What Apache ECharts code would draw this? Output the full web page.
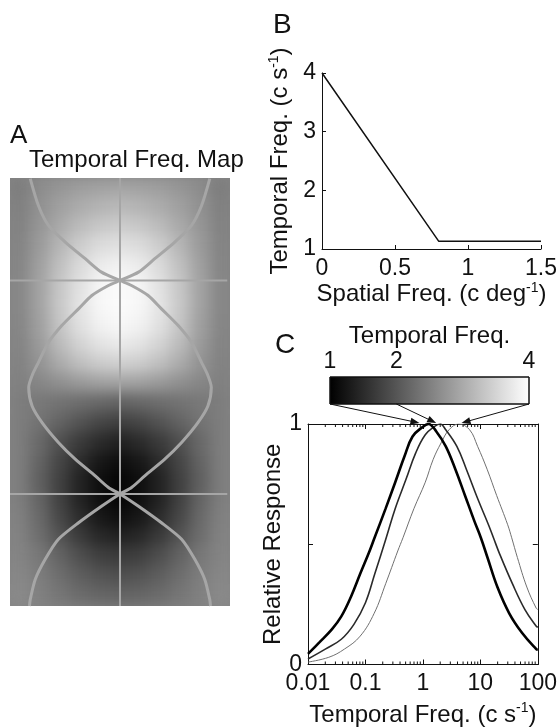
<!DOCTYPE html>
<html>
<head>
<meta charset="utf-8">
<script src="https://cdn.jsdelivr.net/npm/echarts@6/dist/echarts.min.js"></script>
<style>
  html, body { margin: 0; padding: 0; background: #ffffff; }
  #mapBox { position: absolute; left: 10px; top: 178px; width: 220px; height: 428px; overflow: hidden; background: #858585; }
  #mapInner { width: 220px; height: 428px; filter: blur(7px); }
  #main { position: absolute; left: 0; top: 0; width: 560px; height: 728px; }
</style>
</head>
<body>
<div id="mapBox"><div id="mapInner"></div></div>
<div id="main"></div>
<script>
// ---------- Panel A: temporal frequency map ----------
// Temporal frequency (c/s) per map band, top to bottom. Each row starts at the
// centre column and steps outward to the edge; the map is mirror-symmetric.
const mapRowsHalf = [
  [2.94, 2.91, 2.86, 2.76, 2.65, 2.47],
  [3.18, 3.12, 3.02, 2.88, 2.71, 2.51],
  [3.41, 3.35, 3.21, 3.00, 2.76, 2.53],
  [3.65, 3.59, 3.41, 3.14, 2.82, 2.55],
  [3.85, 3.76, 3.56, 3.26, 2.88, 2.56],
  [3.94, 3.88, 3.65, 3.33, 2.92, 2.59],
  [3.96, 3.91, 3.68, 3.35, 2.92, 2.59],
  [3.92, 3.85, 3.65, 3.32, 2.88, 2.58],
  [3.76, 3.68, 3.49, 3.21, 2.82, 2.55],
  [3.47, 3.41, 3.26, 3.02, 2.74, 2.53],
  [2.94, 2.91, 2.82, 2.71, 2.59, 2.51],
  [2.18, 2.24, 2.29, 2.35, 2.41, 2.47],
  [1.76, 1.85, 2.00, 2.18, 2.35, 2.47],
  [1.41, 1.53, 1.71, 1.94, 2.24, 2.47],
  [1.18, 1.29, 1.53, 1.82, 2.18, 2.47],
  [1.06, 1.18, 1.41, 1.76, 2.12, 2.47],
  [1.06, 1.18, 1.41, 1.76, 2.18, 2.47],
  [1.18, 1.29, 1.53, 1.85, 2.24, 2.51],
  [1.41, 1.49, 1.71, 2.00, 2.29, 2.53],
  [1.71, 1.76, 1.94, 2.18, 2.41, 2.55],
  [1.94, 2.00, 2.12, 2.29, 2.47, 2.59],
  [2.18, 2.20, 2.27, 2.39, 2.51, 2.62]
];

// Map overlay, in map units (x: -1..1 across, y: -2.05..1.96 bottom to top).
// Left-hand lobes of the boundary curves; the right-hand ones are mirror images.
const mapUpperLeft = [
  [-0.816, 1.955], [-0.741, 1.70], [-0.65, 1.516], [-0.498, 1.36], [-0.316, 1.204],
  [-0.168, 1.078], [0, 1.0]
];
const mapMiddleLeft = [
  [0, 1.0], [-0.105, 0.953], [-0.256, 0.859], [-0.377, 0.734], [-0.529, 0.577], [-0.65, 0.42],
  [-0.741, 0.233], [-0.795, 0.12], [-0.83, 0.0], [-0.80, -0.174], [-0.71, -0.33],
  [-0.56, -0.518], [-0.407, -0.674], [-0.225, -0.831], [-0.105, -0.94], [0, -1.0]
];
const mapLowerLeft = [
  [0, -1.0], [-0.165, -1.113], [-0.377, -1.27], [-0.56, -1.425], [-0.68, -1.613], [-0.77, -1.80],
  [-0.816, -1.99], [-0.823, -2.05]
];
const mapMeridian = [[0, -2.05], [0, 1.96]];
const mapParallelRows = [1, -1];
const mapParallelSpan = [-1, 0.975];

// ---------- Panel B: temporal frequency vs spatial frequency ----------
const spatialFreq = [0, 0.8, 1.5];
const tuningTF = [4, 1.13, 1.13];

// ---------- Panel C: temporal tuning curves ----------
const colorbarRange = [1, 4];
const colorbarTicks = [1, 2, 4];
const arrowTips = [0.87, 1.7, 4.7];

const respTF1 = [
  [0.01, 0.044], [0.0156, 0.091], [0.026, 0.146], [0.038, 0.2], [0.056, 0.282], [0.081, 0.377],
  [0.118, 0.472], [0.144, 0.527], [0.225, 0.649], [0.33, 0.758], [0.48, 0.867], [0.66, 0.948],
  [0.97, 0.986], [1.25, 1.0], [1.71, 0.969], [2.5, 0.907], [3.67, 0.812], [5.4, 0.703],
  [7.9, 0.595], [10.2, 0.527], [13.3, 0.445], [19.8, 0.322], [31.8, 0.213], [53, 0.132],
  [94, 0.064], [100, 0.061]
];
const respTF2 = [
  [0.01, 0.023], [0.02, 0.064], [0.038, 0.105], [0.063, 0.167], [0.1, 0.257], [0.145, 0.376],
  [0.23, 0.527], [0.33, 0.649], [0.51, 0.771], [0.75, 0.88], [1.1, 0.955], [1.6, 0.99],
  [2.0, 1.0], [2.5, 0.976], [3.9, 0.907], [5.7, 0.812], [8.96, 0.69], [13.9, 0.58],
  [16.9, 0.527], [21.8, 0.458], [36.1, 0.336], [60, 0.227], [94, 0.159], [100, 0.155]
];
const respTF4 = [
  [0.01, 0.01], [0.023, 0.03], [0.043, 0.064], [0.081, 0.118], [0.142, 0.213], [0.225, 0.336],
  [0.365, 0.472], [0.45, 0.527], [0.70, 0.649], [1.1, 0.758], [1.51, 0.853], [2.07, 0.921],
  [2.85, 0.976], [4.2, 1.0], [6.5, 0.976], [8.96, 0.907], [13.1, 0.812], [19.2, 0.703],
  [29.9, 0.581], [35.1, 0.527], [44.1, 0.445], [64.4, 0.322], [93.8, 0.234], [100, 0.229]
];
const logMinorTicks = [
  0.02, 0.03, 0.04, 0.05, 0.06, 0.07, 0.08, 0.09,
  0.2, 0.3, 0.4, 0.5, 0.6, 0.7, 0.8, 0.9,
  2, 3, 4, 5, 6, 7, 8, 9,
  20, 30, 40, 50, 60, 70, 80, 90
];

// ---------- styling ----------
const FONT = '"Liberation Sans", Arial, Helvetica, sans-serif';
const INK = '#111111';
const MAPLINE = '#a6a6a6';
const LABEL = 23, NAME = 24;
const txt = (size) => ({ fontFamily: FONT, fontSize: size, color: INK, fontWeight: 'normal' });
const supRich = {
  n: { fontFamily: FONT, fontSize: NAME, color: INK, lineHeight: 27 },
  s: { fontFamily: FONT, fontSize: 14, color: INK, lineHeight: 16, verticalAlign: 'top' }
};
const withSup = (before, sup, after) => '{n|' + before + '}{s|' + sup + '}{n|' + after + '}';

// ---------- map heatmap (soft-rendered underlay) ----------
const mapData = [];
mapRowsHalf.forEach((row, r) => {
  const full = row.slice(1).reverse().concat(row);
  full.forEach((v, c) => mapData.push([c, r, v]));
});
const mapCols = mapRowsHalf[0].slice(1).concat(mapRowsHalf[0]).map((_, i) => 'c' + i);
const mapRows = mapRowsHalf.map((_, i) => 'r' + i);

const mapChart = echarts.init(document.getElementById('mapInner'));
mapChart.setOption({
  animation: false,
  grid: { left: 0, right: 0, top: 0, bottom: 0 },
  xAxis: { type: 'category', data: mapCols, show: false },
  yAxis: { type: 'category', data: mapRows, show: false, inverse: true },
  visualMap: { show: false, min: colorbarRange[0], max: colorbarRange[1], inRange: { color: ['#000000', '#ffffff'] } },
  series: [{ type: 'heatmap', data: mapData, progressive: 0, silent: true }]
});

// ---------- main figure ----------
const chart = echarts.init(document.getElementById('main'));

const axisLineStyle = { show: true, onZero: false, lineStyle: { color: INK, width: 1 } };
const tickIn = (len) => ({ show: true, inside: true, length: len, lineStyle: { color: INK, width: 1 } });
const mirror = (pts) => pts.map(([x, y]) => [-x, y]);

const series = [];
// Panel A overlay lines
series.push({
  type: 'line', xAxisIndex: 0, yAxisIndex: 0, data: mapMeridian, symbol: 'none', silent: true,
  lineStyle: { color: MAPLINE, width: 2 }
});
mapParallelRows.forEach(y => series.push({
  type: 'line', xAxisIndex: 0, yAxisIndex: 0, data: mapParallelSpan.map(x => [x, y]), symbol: 'none', silent: true,
  lineStyle: { color: MAPLINE, width: 2 }
}));
// each boundary curve crosses the meridian, swapping sides at both crossings
const boundary = mapUpperLeft.concat(mirror(mapMiddleLeft).slice(1), mapLowerLeft.slice(1));
[boundary, mirror(boundary)].forEach(path => series.push({
  type: 'line', xAxisIndex: 0, yAxisIndex: 0, data: path, symbol: 'none', smooth: 0.25, silent: true,
  lineStyle: { color: MAPLINE, width: 3 }
}));
// Panel B
series.push({
  type: 'line', xAxisIndex: 1, yAxisIndex: 1, symbol: 'none', silent: true,
  data: spatialFreq.map((x, i) => [x, tuningTF[i]]),
  lineStyle: { color: INK, width: 1.5 }
});
// Panel C colour bar
series.push({
  type: 'custom', xAxisIndex: 2, yAxisIndex: 2, silent: true,
  data: [[colorbarRange[0], colorbarRange[1]]],
  renderItem: (params, api) => {
    const tl = api.coord([api.value(0), 1]);
    const br = api.coord([api.value(1), 0]);
    return {
      type: 'rect',
      shape: { x: tl[0], y: tl[1], width: br[0] - tl[0], height: br[1] - tl[1] },
      style: {
        fill: new echarts.graphic.LinearGradient(0, 0, 1, 0, [
          { offset: 0, color: '#000000' }, { offset: 1, color: '#ffffff' }
        ]),
        stroke: INK, lineWidth: 1
      }
    };
  }
});
// Panel C tuning curves
[[respTF4, '#707070', 1], [respTF2, '#2a2a2a', 1.6], [respTF1, '#000000', 2.6]].forEach(([d, c, w]) => series.push({
  type: 'line', xAxisIndex: 3, yAxisIndex: 3, data: d, symbol: 'none', smooth: 0.4, silent: true,
  lineStyle: { color: c, width: w }
}));
// Panel C logarithmic minor ticks (bottom and top frame)
series.push({
  type: 'custom', xAxisIndex: 3, yAxisIndex: 3, silent: true, z: 5,
  data: logMinorTicks.map(v => [v, 0]),
  renderItem: (params, api) => {
    const b = api.coord([api.value(0), 0]);
    const t = api.coord([api.value(0), 1]);
    return {
      type: 'group', children: [
        { type: 'line', shape: { x1: b[0], y1: b[1], x2: b[0], y2: b[1] - 3 }, style: { stroke: INK, lineWidth: 1 } },
        { type: 'line', shape: { x1: t[0], y1: t[1], x2: t[0], y2: t[1] + 3 }, style: { stroke: INK, lineWidth: 1 } }
      ]
    };
  }
});

chart.setOption({
  animation: false,
  title: [
    { text: 'A', left: 10, top: 123, padding: 0, textStyle: txt(26) },
    { text: 'Temporal Freq. Map', left: 29, top: 148, padding: 0, textStyle: txt(NAME) },
    { text: 'B', left: 273, top: 11, padding: 0, textStyle: txt(28) },
    { text: 'C', left: 275, top: 331, padding: 0, textStyle: txt(28) }
  ],
  grid: [
    { left: 10, top: 178, width: 220, height: 428 },
    { left: 322, top: 73, width: 228, height: 176 },
    { left: 330, top: 377, width: 199, height: 27 },
    { left: 308, top: 424, width: 242, height: 245 }
  ],
  xAxis: [
    { gridIndex: 0, type: 'value', min: -1, max: 1, show: false },
    {
      gridIndex: 1, type: 'value', min: 0, max: 1.5, interval: 0.5,
      axisLine: axisLineStyle, axisTick: tickIn(4), splitLine: { show: false },
      axisLabel: Object.assign(txt(LABEL), { margin: 8 }),
      name: withSup('Spatial Freq. (c deg', '-1', ')'), nameLocation: 'middle', nameGap: 32,
      nameTextStyle: { rich: supRich }
    },
    {
      gridIndex: 2, type: 'value', min: colorbarRange[0], max: colorbarRange[1], interval: 1, position: 'top',
      axisLine: { show: false }, axisTick: { show: false }, splitLine: { show: false },
      axisLabel: Object.assign(txt(LABEL), { margin: 4, formatter: v => colorbarTicks.includes(v) ? String(v) : '' }),
      name: 'Temporal Freq.', nameLocation: 'middle', nameGap: 29, nameTextStyle: txt(NAME)
    },
    {
      gridIndex: 3, type: 'log', logBase: 10, min: 0.01, max: 100,
      axisLine: axisLineStyle, axisTick: tickIn(5), splitLine: { show: false }, minorTick: { show: false },
      axisLabel: Object.assign(txt(LABEL), { margin: 8 }),
      name: withSup('Temporal Freq. (c s', '-1', ')'), nameLocation: 'middle', nameGap: 37,
      nameTextStyle: { rich: supRich }
    },
    {
      gridIndex: 3, type: 'log', logBase: 10, min: 0.01, max: 100, position: 'top',
      axisLine: axisLineStyle, axisTick: tickIn(5), splitLine: { show: false },
      axisLabel: { show: false }
    }
  ],
  yAxis: [
    { gridIndex: 0, type: 'value', min: -2.05, max: 1.96, show: false },
    {
      gridIndex: 1, type: 'value', min: 1, max: 4, interval: 1,
      axisLine: axisLineStyle, axisTick: tickIn(4), splitLine: { show: false },
      axisLabel: Object.assign(txt(LABEL), { margin: 6 }),
      name: withSup('Temporal Freq. (c s', '-1', ')'), nameLocation: 'middle', nameGap: 28,
      nameTextStyle: { rich: supRich }
    },
    { gridIndex: 2, type: 'value', min: 0, max: 1, show: false },
    {
      gridIndex: 3, type: 'value', min: 0, max: 1, interval: 0.5,
      axisLine: axisLineStyle, axisTick: tickIn(5), splitLine: { show: false },
      axisLabel: Object.assign(txt(LABEL), { margin: 6, formatter: v => (v === 0 || v === 1) ? String(v) : '' }),
      name: 'Relative Response', nameLocation: 'middle', nameGap: 14, nameTextStyle: txt(NAME)
    },
    {
      gridIndex: 3, type: 'value', min: 0, max: 1, interval: 0.5, position: 'right',
      axisLine: axisLineStyle, axisTick: tickIn(5), splitLine: { show: false },
      axisLabel: { show: false }
    }
  ],
  series: series
});

// Arrows linking colour-bar values to the tuning-curve peaks
const arrowEls = [];
colorbarTicks.forEach((v, i) => {
  const s = chart.convertToPixel({ gridIndex: 2 }, [v, 0]);
  const e = chart.convertToPixel({ gridIndex: 3 }, [arrowTips[i], 1]);
  e[1] -= 1;
  const dx = e[0] - s[0], dy = e[1] - s[1];
  const len = Math.sqrt(dx * dx + dy * dy);
  const ux = dx / len, uy = dy / len;
  const headL = 9, headW = 3.5;
  const bx = e[0] - ux * headL, by = e[1] - uy * headL;
  arrowEls.push({
    type: 'line', silent: true, z: 10,
    shape: { x1: s[0], y1: s[1], x2: bx + ux * 2, y2: by + uy * 2 },
    style: { stroke: INK, lineWidth: 1 }
  });
  arrowEls.push({
    type: 'polygon', silent: true, z: 10,
    shape: { points: [[e[0], e[1]], [bx - uy * headW, by + ux * headW], [bx + uy * headW, by - ux * headW]] },
    style: { fill: INK }
  });
});
chart.setOption({ graphic: arrowEls });
</script>
</body>
</html>
